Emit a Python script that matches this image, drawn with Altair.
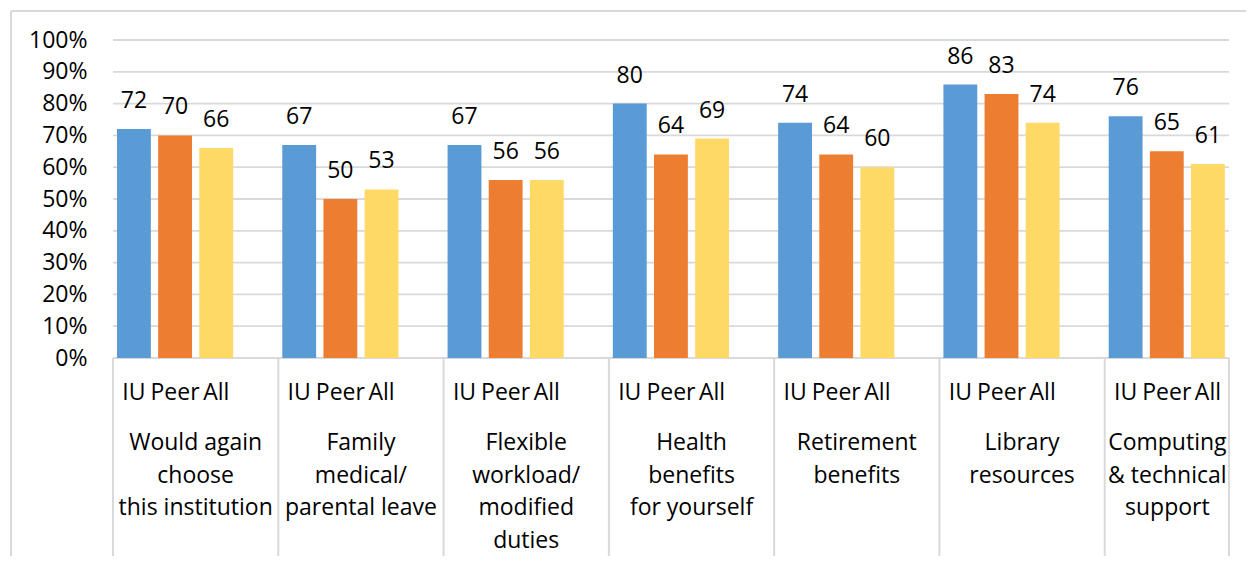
import altair as alt
import pandas as pd

categories = [
    "Would again choose this institution",
    "Family medical/parental leave",
    "Flexible workload/modified duties",
    "Health benefits for yourself",
    "Retirement benefits",
    "Library resources",
    "Computing & technical support",
]
category_labels = [
    "Would again\nchoose\nthis institution",
    "Family\nmedical/\nparental leave",
    "Flexible\nworkload/\nmodified\nduties",
    "Health\nbenefits\nfor yourself",
    "Retirement\nbenefits",
    "Library\nresources",
    "Computing\n& technical\nsupport",
]
series = ["IU", "Peer", "All"]
iu_values = [72, 67, 67, 80, 74, 86, 76]
peer_values = [70, 50, 56, 64, 64, 83, 65]
all_values = [66, 53, 56, 69, 60, 74, 61]
colors = ["#5B9BD5", "#ED7D31", "#FFD966"]
y_ticks = list(range(0, 101, 10))

rows = []
for i, c in enumerate(categories):
    for s, vals in zip(series, [iu_values, peer_values, all_values]):
        rows.append({"category": c, "series": s, "value": vals[i]})
df = pd.DataFrame(rows)
cat_df = pd.DataFrame({"category": categories, "label": category_labels})
tick_df = pd.DataFrame({"value": y_ticks})
one_row = pd.DataFrame({"k": [0]})

FONT = "Open Sans"
FS = 23
GRID = "#d9d9d9"

x_scale = alt.Scale(domain=categories, range=[0, 1157], paddingInner=0, paddingOuter=0)
off_scale = alt.Scale(domain=series + ["gap"], paddingInner=0.177, paddingOuter=0.097)
x_enc = alt.X("category:N", scale=x_scale, axis=None)
off_enc = alt.XOffset("series:N", scale=off_scale)
y_scale = alt.Scale(domain=[0, 100], nice=False)
y_axis = alt.Axis(values=y_ticks, labelExpr="datum.value + '%'", title=None, grid=False)
y_enc = alt.Y("value:Q", scale=y_scale, axis=y_axis)

base = alt.Chart(df)

grid = alt.Chart(tick_df).mark_rule(color=GRID, strokeWidth=1.8).encode(
    y=y_enc,
    x=alt.value(0),
    x2=alt.value(1116),
)

bars = base.mark_bar().encode(
    x=x_enc,
    xOffset=off_enc,
    y=y_enc,
    color=alt.Color("series:N", scale=alt.Scale(domain=series, range=colors), legend=None),
)

value_labels = base.mark_text(
    baseline="alphabetic", dy=-21, font=FONT, fontSize=FS, color="#000000"
).encode(x=x_enc, xOffset=off_enc, y=y_enc, text="value:Q")

series_labels = base.mark_text(
    baseline="alphabetic", font=FONT, fontSize=FS, color="#000000"
).encode(x=x_enc, xOffset=off_enc, y=alt.value(360), text="series:N")

cat_text_main = alt.Chart(cat_df.iloc[:-1]).mark_text(
    baseline="alphabetic", font=FONT, fontSize=FS, lineBreak="\n", lineHeight=32.5, color="#000000"
).encode(x=x_enc, y=alt.value(410), text="label:N")

cat_text_last = alt.Chart(cat_df.iloc[-1:]).mark_text(
    baseline="alphabetic", font=FONT, fontSize=FS, lineBreak="\n", lineHeight=32.5, color="#000000", dx=-20
).encode(x=x_enc, y=alt.value(410), text="label:N")

separators = alt.Chart(cat_df).mark_rule(color=GRID, strokeWidth=2).encode(
    x=alt.X("category:N", scale=x_scale, axis=None, bandPosition=0),
    y=alt.value(318),
    y2=alt.value(518),
)

last_sep = alt.Chart(one_row).mark_rule(color=GRID, strokeWidth=2).encode(
    x=alt.value(1116), y=alt.value(318), y2=alt.value(518)
)

border_left = alt.Chart(one_row).mark_rule(color=GRID, strokeWidth=2).encode(
    x=alt.value(-102), y=alt.value(-29), y2=alt.value(540)
)
border_top = alt.Chart(one_row).mark_rule(color=GRID, strokeWidth=2).encode(
    x=alt.value(-102), x2=alt.value(1140), y=alt.value(-29)
)

chart = alt.layer(
    border_left, border_top, grid, separators, last_sep, bars, value_labels, series_labels,
    cat_text_main, cat_text_last,
).properties(
    width=1116,
    height=318,
    padding={"left": 105, "top": 32, "right": 17, "bottom": 198},
    autosize=alt.AutoSizeParams(type="none"),
).configure_view(stroke=None).configure_axis(
    domain=False,
    ticks=False,
    labelFont=FONT,
    labelFontSize=FS,
    labelColor="#000000",
    labelPadding=26,
)

chart.save("out.html", embed_options={"renderer": "svg", "actions": False})
